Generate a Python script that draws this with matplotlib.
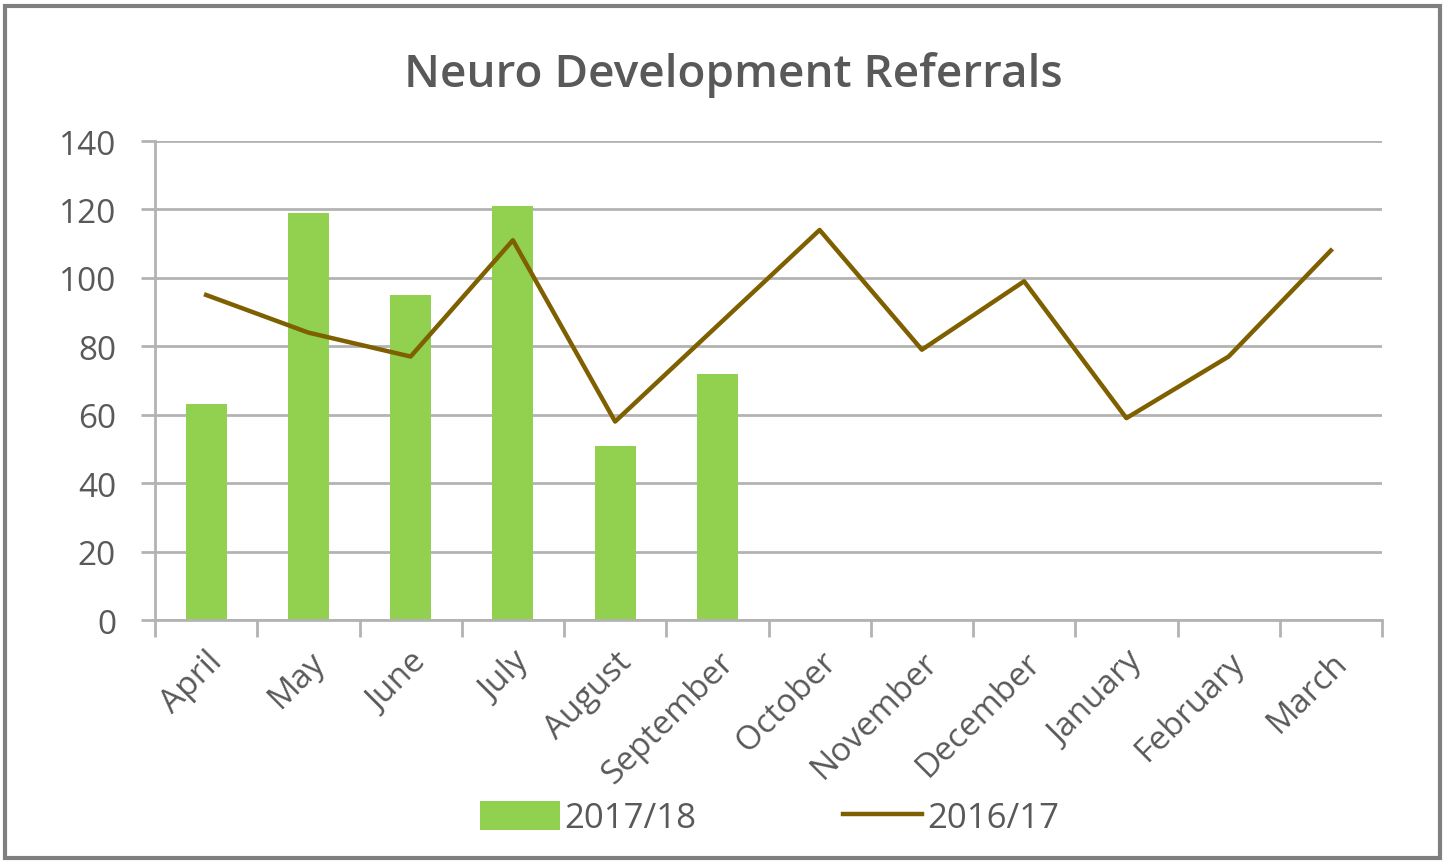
import matplotlib
matplotlib.use("Agg")
import matplotlib.pyplot as plt
import numpy as np
from matplotlib.patches import Rectangle

months = ["April", "May", "June", "July", "August", "September", "October",
          "November", "December", "January", "February", "March"]
referrals_1718 = [63, 119, 95, 121, 51, 72]
referrals_1617 = [95, 84, 77, 111, 58, 86, 114, 79, 99, 59, 77, 108]

grey = "#595959"
grid_grey = "#B3B3B3"
plt.rcParams['font.family'] = ['Open Sans', 'DejaVu Sans']

fig = plt.figure(figsize=(14.44, 8.62), dpi=100)
ax = fig.add_axes([155 / 1444, 1 - 621 / 862, (1382 - 155) / 1444, (621 - 142) / 862])

# Outer frame
fig.patches.append(Rectangle((5 / 1444, 3 / 862), 1 - 9 / 1444, 1 - 10 / 862,
                             transform=fig.transFigure, fill=False,
                             edgecolor="#7F7F7F", linewidth=3))

x = np.arange(len(months))
bars = ax.bar(x[:len(referrals_1718)], referrals_1718, width=0.4, color="#92D050",
              label="2017/18", zorder=2)
line, = ax.plot(x, referrals_1617, color="#7F6000", linewidth=3.2, label="2016/17", zorder=3)

ax.set_xlim(-0.5, len(months) - 0.5)
ax.set_ylim(0, 140)
ax.set_yticks(range(0, 141, 20))
ax.yaxis.grid(True, color=grid_grey, linewidth=2)
ax.set_axisbelow(True)

for s in ["top", "right"]:
    ax.spines[s].set_visible(False)
for s in ["left", "bottom"]:
    ax.spines[s].set_color(grid_grey)
    ax.spines[s].set_linewidth(2)

# category boundary ticks on x
ax.set_xticks(np.arange(-0.5, len(months), 1))
ax.set_xticklabels([])
ax.tick_params(axis="x", which="major", length=12, width=2, color=grid_grey)
ax.set_xticks(x, minor=True)
ax.set_xticklabels(months, minor=True, rotation=45, ha="right", va="top",
                   rotation_mode="anchor", fontsize=24, color=grey)
ax.tick_params(axis="x", which="minor", length=0, pad=18)
ax.tick_params(axis="y", length=10, width=2, color=grid_grey, labelsize=24,
               labelcolor=grey, pad=18)

fig.text(0.508, 0.913, "Neuro Development Referrals", ha="center", va="center",
         fontsize=33, color=grey, fontweight="semibold")

fig.legend([bars, line], ["2017/18", "2016/17"], loc="center",
           bbox_to_anchor=(0.533, 0.05), ncol=2, frameon=False,
           fontsize=25, labelcolor=grey, handlelength=2.3, handleheight=0.9,
           columnspacing=4.2, handletextpad=0.15)

fig.savefig("out.png", dpi=100)
